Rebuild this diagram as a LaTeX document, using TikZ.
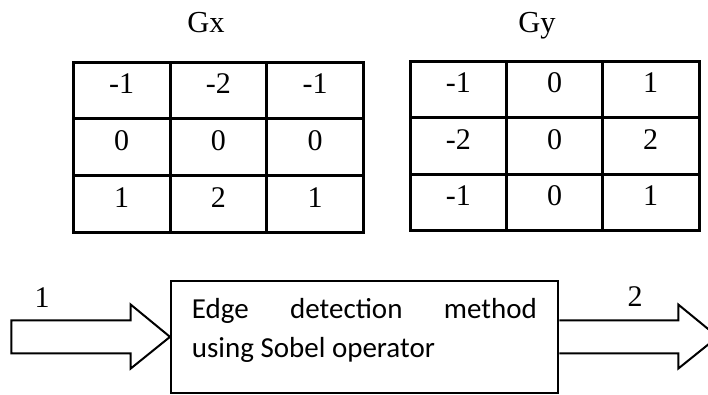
\documentclass[tikz,border=0pt]{standalone}
\usepackage{fontspec}
\setmainfont{Liberation Serif}
\newfontfamily\calib{Carlito}
\usetikzlibrary{calc}
\tikzset{
  tbl/.style={line width=3pt, line cap=rect},
  cell/.style={anchor=base, inner sep=0pt, font=\fontsize{30}{34}\selectfont},
  ttl/.style={anchor=base, inner sep=0pt, font=\fontsize{30.5}{34}\selectfont},
  lbl/.style={anchor=base, inner sep=0pt, font=\fontsize{30}{34}\selectfont},
  procbox/.style={draw, line width=2pt, minimum width=387.3pt, minimum height=112.3pt, inner sep=0pt},
  blk/.style={draw, line width=2pt, line join=miter},
  boxtxt/.style={anchor=base west, inner sep=0pt, font=\calib\fontsize{29}{34}\selectfont}
}
\begin{document}
\begin{tikzpicture}[x=1pt,y=-1pt]
\useasboundingbox (0,0) rectangle (708,394);
\clip (0,0) rectangle (708,394);
% titles
\node[ttl] (gx) at (206,32) {Gx};
\node[ttl] (gy) at (537,32) {Gy};
% Gx table
\draw[tbl] (73.3,62) rectangle (363.3,232.7);
\draw[tbl] (170,62) -- (170,232.7) (266.7,62) -- (266.7,232.7);
\draw[tbl] (73.3,118.5) -- (363.3,118.5) (73.3,175.7) -- (363.3,175.7);
\node[cell] (a11) at (121.7,93.5) {-1};
\node[cell] (a12) at (218.3,93.5) {-2};
\node[cell] (a13) at (315,93.5) {-1};
\node[cell] (a21) at (121.7,150.5) {0};
\node[cell] (a22) at (218.3,150.5) {0};
\node[cell] (a23) at (315,150.5) {0};
\node[cell] (a31) at (121.7,207.5) {1};
\node[cell] (a32) at (218.3,207.5) {2};
\node[cell] (a33) at (315,207.5) {1};
% Gy table
\draw[tbl] (410,61) rectangle (699,230);
\draw[tbl] (506.7,61) -- (506.7,230) (602.3,61) -- (602.3,230);
\draw[tbl] (410,117.3) -- (699,117.3) (410,174) -- (699,174);
\node[cell] (b11) at (458.3,92.5) {-1};
\node[cell] (b12) at (554.5,92.5) {0};
\node[cell] (b13) at (650.7,92.5) {1};
\node[cell] (b21) at (458.3,149) {-2};
\node[cell] (b22) at (554.5,149) {0};
\node[cell] (b23) at (650.7,149) {2};
\node[cell] (b31) at (458.3,205.5) {-1};
\node[cell] (b32) at (554.5,205.5) {0};
\node[cell] (b33) at (650.7,205.5) {1};
% process box
\node[procbox] (box) at (364.65,336.85) {};
\node[boxtxt] (t1) at (191.7,318.5) {\hbox to 345pt{Edge\hfill detection\hfill method}};
\node[boxtxt] (t2) at (191.7,357) {using Sobel operator};
% input arrow
\coordinate (inT) at (box.west);
\draw[blk] ($(inT)+(-158.7,-16.5)$) -- ($(inT)+(-39.3,-16.5)$) -- ($(inT)+(-39.3,-32.3)$) -- (inT)
  -- ($(inT)+(-39.3,31.7)$) -- ($(inT)+(-39.3,16.5)$) -- ($(inT)+(-158.7,16.5)$) -- cycle;
% output arrow
\coordinate (outS) at (box.east);
\draw[blk] (outS) ++(0,-16.5) coordinate (o1) -- ($(outS)+(119,-16.5)$) -- ($(outS)+(119,-32.3)$)
  -- ($(outS)+(158.4,0)$) coordinate (outT) -- ($(outS)+(119,31.7)$) -- ($(outS)+(119,16.5)$) -- ($(outS)+(0,16.5)$);
\node[lbl] (l1) at (42,307) {1};
\node[lbl] (l2) at (635,306) {2};
\end{tikzpicture}
\end{document}
